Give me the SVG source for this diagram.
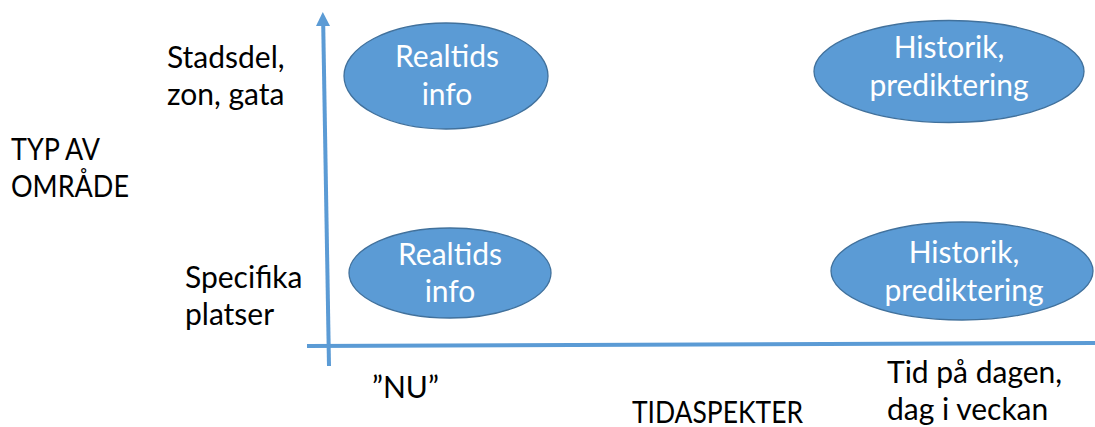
<svg xmlns="http://www.w3.org/2000/svg" width="1095" height="427" viewBox="0 0 1095 427">
<style>
.node{fill:#5B9BD5;stroke:#41719C;stroke-width:1.3}
.nt{font-family:Lato,"Liberation Sans",sans-serif;font-size:30px;fill:#FFFFFF;text-anchor:middle}
.lbl{font-family:Lato,"Liberation Sans",sans-serif;font-size:30px;fill:#000000}
.axis{stroke:#5B9BD5;stroke-width:4;fill:none}
</style>
<rect width="1095" height="427" fill="#FFFFFF"/>
<g id="connectors">
<line class="axis" x1="329" y1="366" x2="323.2" y2="24"/>
<polygon points="322.8,12 316,26 330,26" fill="#5B9BD5"/>
<line class="axis" x1="307" y1="346" x2="1095" y2="343"/>
</g>
<g id="n1">
<ellipse class="node" cx="446" cy="76" rx="102" ry="53"/>
<text class="nt" x="447" y="67">Realtids</text>
<text class="nt" x="447" y="105">info</text>
</g>
<g id="n2">
<ellipse class="node" cx="949" cy="71.5" rx="135" ry="51"/>
<text class="nt" x="949" y="58">Historik,</text>
<text class="nt" x="949" y="96">prediktering</text>
</g>
<g id="n3">
<ellipse class="node" cx="450" cy="273" rx="101" ry="45"/>
<text class="nt" x="450" y="265">Realtids</text>
<text class="nt" x="450" y="302">info</text>
</g>
<g id="n4">
<ellipse class="node" cx="962" cy="271" rx="131" ry="49"/>
<text class="nt" x="964" y="263">Historik,</text>
<text class="nt" x="964" y="301">prediktering</text>
</g>
<g id="labels">
<text class="lbl" x="167" y="68">Stadsdel,</text>
<text class="lbl" x="167" y="105">zon, gata</text>
<text class="lbl" x="11" y="160" textLength="89" lengthAdjust="spacingAndGlyphs">TYP AV</text>
<text class="lbl" x="11" y="197" textLength="118" lengthAdjust="spacingAndGlyphs">OMRÅDE</text>
<text class="lbl" x="185" y="288">Specifika</text>
<text class="lbl" x="185" y="325">platser</text>
<text class="lbl" x="372" y="398">”NU”</text>
<text class="lbl" x="632" y="423" textLength="171" lengthAdjust="spacingAndGlyphs">TIDASPEKTER</text>
<text class="lbl" x="887" y="383">Tid på dagen,</text>
<text class="lbl" x="887" y="420">dag i veckan</text>
</g>
</svg>
